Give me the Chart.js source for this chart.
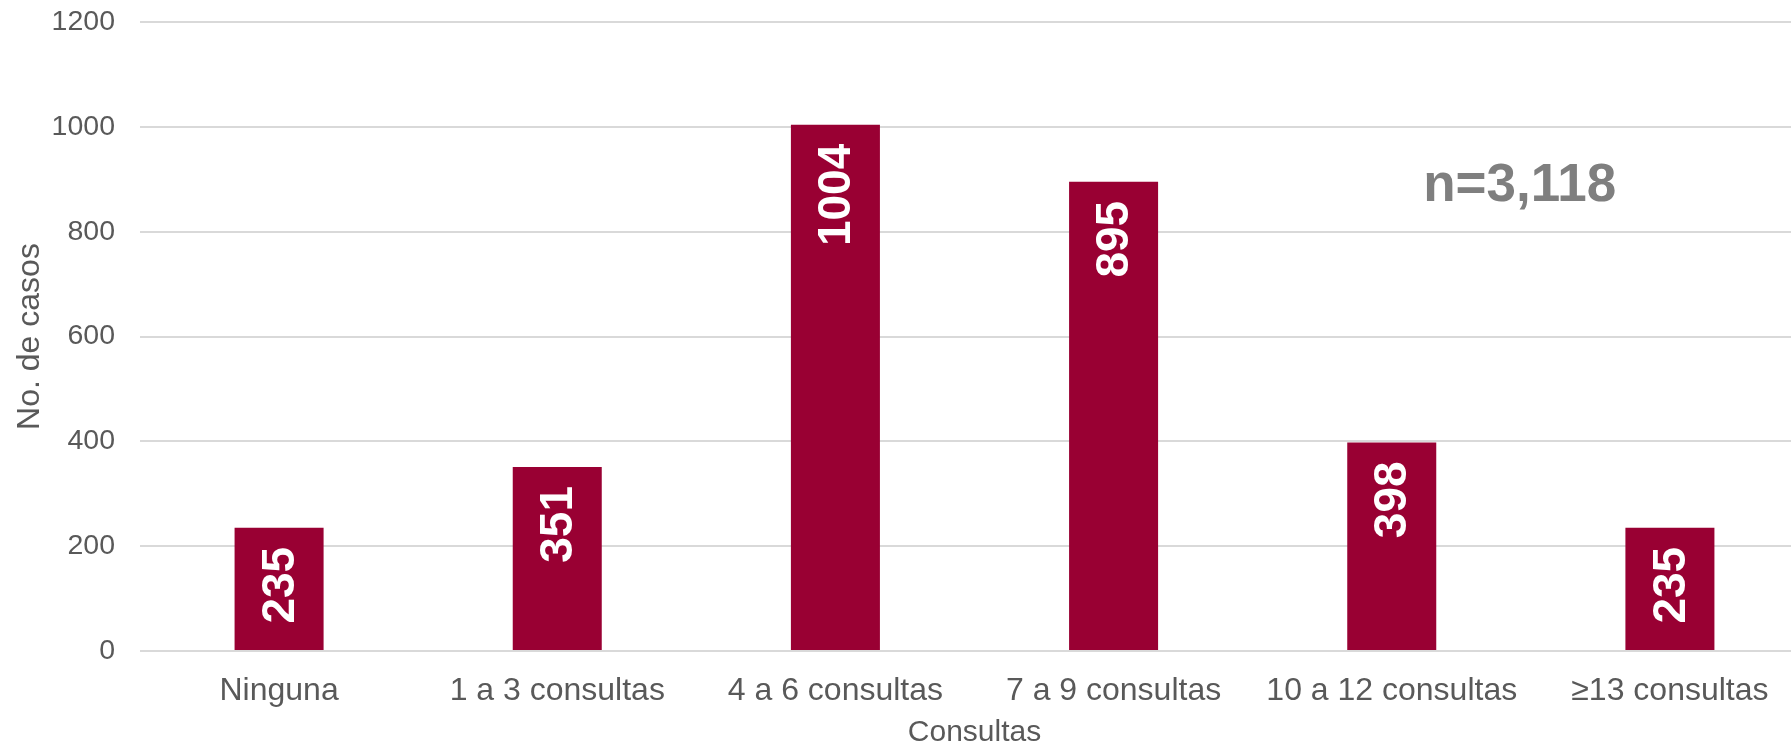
<!DOCTYPE html>
<html>
<head>
<meta charset="utf-8">
<script src="https://cdn.jsdelivr.net/npm/chart.js@4"></script>
<style>
  html, body { margin: 0; padding: 0; background: #ffffff; overflow: hidden; }
  #wrap { position: relative; width: 1809px; height: 746px; }
</style>
</head>
<body>
<div id="wrap"><canvas id="barras"></canvas></div>
<script>
// datos
var categorias = ["Ninguna", "1 a 3 consultas", "4 a 6 consultas", "7 a 9 consultas", "10 a 12 consultas", "\u226513 consultas"];
var casos = [235, 351, 1004, 895, 398, 235];
var ticksY = [0, 200, 400, 600, 800, 1000, 1200];
var totalTexto = "n=3,118";

var FUENTE = "'Liberation Sans', Arial, sans-serif";
var GRIS = "#595959";

// etiquetas blancas giradas dentro de cada barra
var etiquetasBarra = {
  id: "etiquetasBarra",
  afterDatasetsDraw: function (chart) {
    var ctx = chart.ctx;
    var meta = chart.getDatasetMeta(0);
    ctx.save();
    ctx.fillStyle = "#ffffff";
    ctx.font = "bold 46px " + FUENTE;
    ctx.textAlign = "right";
    ctx.textBaseline = "middle";
    meta.data.forEach(function (barra, i) {
      ctx.save();
      ctx.translate(barra.x, barra.y + 19);
      ctx.rotate(-Math.PI / 2);
      ctx.fillText(String(casos[i]), 0, 2);
      ctx.restore();
    });
    ctx.restore();
  }
};

// texto del total (n)
var textoTotal = {
  id: "textoTotal",
  afterDraw: function (chart) {
    var ctx = chart.ctx;
    var x = chart.scales.x;
    var y = chart.scales.y;
    var px = x.getPixelForValue(4) + 0.46 * (x.getPixelForValue(5) - x.getPixelForValue(4));
    var py = y.getPixelForValue(887);
    ctx.save();
    ctx.fillStyle = "#7f7f7f";
    ctx.font = "bold 53px " + FUENTE;
    ctx.textAlign = "center";
    ctx.textBaseline = "middle";
    ctx.fillText(totalTexto, px, py);
    ctx.restore();
  }
};

var lienzo = document.getElementById("barras");
var grafico = new Chart(lienzo, {
  type: "bar",
  data: {
    labels: categorias,
    datasets: [{
      label: "No. de casos",
      data: casos,
      backgroundColor: "#990033",
      borderWidth: 0,
      categoryPercentage: 1.0,
      barPercentage: 0.32
    }]
  },
  options: {
    responsive: true,
    maintainAspectRatio: false,
    animation: false,
    layout: { padding: 0 },
    plugins: {
      legend: { display: false },
      tooltip: { enabled: false }
    },
    scales: {
      x: {
        grid: { display: false, drawTicks: false },
        border: { display: false },
        ticks: { color: GRIS, font: { family: FUENTE, size: 32 }, padding: 21, maxRotation: 0, autoSkip: false },
        title: { display: true, text: "Consultas", color: GRIS, font: { family: FUENTE, size: 30, lineHeight: 0.9 }, padding: { top: 0, bottom: 0 } },
        afterFit: function (escala) { escala.height = 95; }
      },
      y: {
        min: 0,
        max: 1200,
        afterBuildTicks: function (escala) {
          escala.ticks = ticksY.map(function (v) { return { value: v }; });
        },
        grid: { color: "#d9d9d9", lineWidth: 2, drawTicks: false },
        border: { display: false },
        ticks: {
          color: GRIS,
          font: { family: FUENTE, size: 28.5 },
          padding: 25,
          callback: function (valor) { return String(valor); }
        },
        title: { display: true, text: "No. de casos", color: GRIS, font: { family: FUENTE, size: 32 }, padding: { top: 11, bottom: 0 } },
        afterFit: function (escala) {
          escala.width = 140;
          escala.paddingTop = 22;
        }
      }
    }
  },
  plugins: [etiquetasBarra, textoTotal]
});
</script>
</body>
</html>
